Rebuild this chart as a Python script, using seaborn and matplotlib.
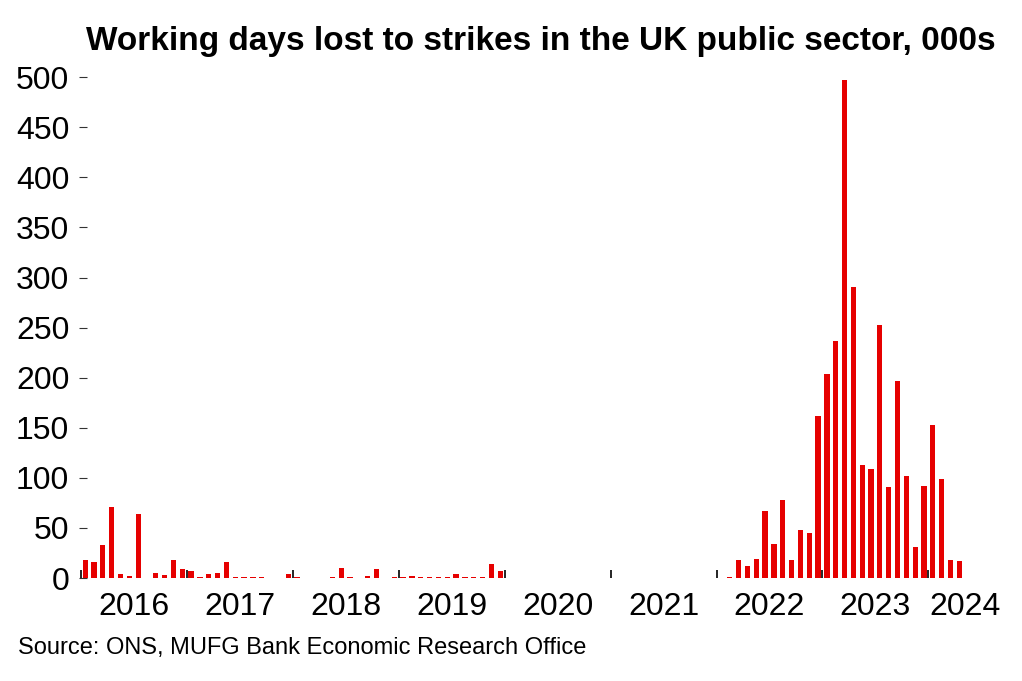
import matplotlib
matplotlib.use('Agg')
import matplotlib.pyplot as plt
import seaborn as sns
import pandas as pd

# monthly working days lost, 000s (Jan 2016 - Apr 2024), 0 where nothing is shown
days_2016 = [18, 16, 33, 71, 4, 2, 64, 0, 5, 3, 18, 9]
days_2017 = [7, 1, 4, 5, 16, 0.7, 0.7, 0.7, 0.7, 0, 0, 4]
days_2018 = [1, 0, 0, 0, 1, 10, 1, 0, 2, 9, 0, 1]
days_2019 = [1, 2, 1, 1, 1, 1, 4, 1, 1, 1, 14, 7]
days_2020 = [0] * 12
days_2021 = [0] * 12
days_2022 = [0, 1, 18, 12, 19, 67, 34, 78, 18, 48, 45, 162]
days_2023 = [204, 237, 497, 291, 113, 109, 253, 91, 197, 102, 31, 92]
days_2024 = [153, 99, 18, 17]

years = ['2016', '2017', '2018', '2019', '2020', '2021', '2022', '2023', '2024']
y_ticks = [0, 50, 100, 150, 200, 250, 300, 350, 400, 450, 500]

values = (days_2016 + days_2017 + days_2018 + days_2019 + days_2020
          + days_2021 + days_2022 + days_2023 + days_2024)
months = pd.date_range('2016-01-01', periods=len(values), freq='MS').strftime('%Y-%m')
df = pd.DataFrame({'month': months, 'days_lost': values})

sns.set_style('white')
plt.rcParams['font.family'] = ['Liberation Sans', 'DejaVu Sans']
plt.rcParams['text.color'] = 'black'
plt.rcParams['xtick.color'] = 'black'
plt.rcParams['ytick.color'] = 'black'

fig, ax = plt.subplots(figsize=(10.22, 6.81), dpi=100)
fig.subplots_adjust(left=0.0773, right=0.981, bottom=0.1512, top=0.894)

sns.barplot(data=df, x='month', y='days_lost', order=list(months), color='#E60000',
            width=0.6, errorbar=None, ax=ax, saturation=1, linewidth=0)

x_right = 103.9
ax.set_xlim(-0.7, x_right)
ax.set_ylim(0, 505)

# year boundaries as small inward ticks, year labels in between
bounds = [12 * i - 0.5 for i in range(len(years))]
label_pos = [12 * i + 5.5 for i in range(len(years) - 1)] + [(bounds[-1] + x_right) / 2]
ax.set_xticks(bounds)
ax.set_xticklabels([])
ax.set_xticks(label_pos, minor=True)
ax.set_xticklabels(years, minor=True)
ax.tick_params(axis='x', which='major', direction='in', length=5.5, width=1.2,
               color='black', bottom=True)
ax.tick_params(axis='x', which='minor', length=0, pad=10, labelsize=23, bottom=True)

ax.set_yticks(y_ticks)
ax.tick_params(axis='y', direction='in', length=5.8, width=0.8, color='#333333',
               pad=7, labelsize=23, left=True)

for s in ax.spines.values():
    s.set_visible(False)

ax.set_xlabel('')
ax.set_ylabel('')
ax.set_title('Working days lost to strikes in the UK public sector, 000s',
             fontsize=24, fontweight='bold', pad=16)
fig.text(0.018, 1 - 648 / 681, 'Source: ONS, MUFG Bank Economic Research Office',
         fontsize=17, va='center', ha='left')

plt.savefig('out.png', dpi=100)
